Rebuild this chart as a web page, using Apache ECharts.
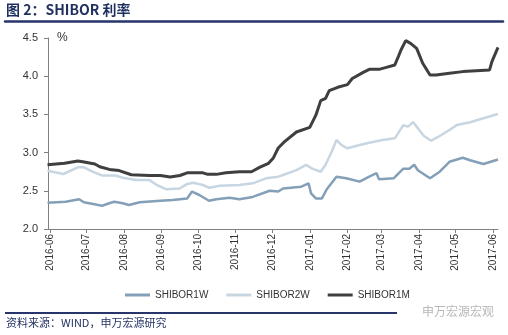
<!DOCTYPE html>
<html><head><meta charset="utf-8">
<script src="https://cdn.jsdelivr.net/npm/echarts@6/dist/echarts.min.js"></script>
<style>html,body{margin:0;padding:0;background:#fff}#c{width:508px;height:335px}</style>
</head><body><div id="c"></div>
<script>
const monthTicks = ['2016-06-01','2016-07-01','2016-08-01','2016-09-01','2016-10-01','2016-11-01','2016-12-01','2017-01-01','2017-02-01','2017-03-01','2017-04-01','2017-05-01','2017-06-01'];
const yTicks = [2.0, 2.5, 3.0, 3.5, 4.0, 4.5];

const dates1W = ['2016-05-30','2016-06-14','2016-06-25','2016-06-29','2016-07-14','2016-07-21','2016-07-24','2016-07-31','2016-08-05','2016-08-14','2016-08-28','2016-09-10','2016-09-22','2016-09-26','2016-10-02','2016-10-10','2016-10-16','2016-10-27','2016-11-04','2016-11-15','2016-11-29','2016-12-06','2016-12-10','2016-12-25','2016-12-31','2017-01-02','2017-01-06','2017-01-11','2017-01-15','2017-01-23','2017-01-31','2017-02-11','2017-02-19','2017-02-25','2017-02-27','2017-03-11','2017-03-19','2017-03-24','2017-03-28','2017-03-31','2017-04-10','2017-04-18','2017-04-26','2017-05-07','2017-05-13','2017-05-24','2017-05-30','2017-06-05'];
const values1W = [2.344,2.357,2.39,2.35,2.305,2.344,2.357,2.336,2.314,2.35,2.366,2.38,2.40,2.49,2.445,2.37,2.389,2.41,2.389,2.42,2.50,2.49,2.53,2.554,2.598,2.467,2.40,2.40,2.52,2.685,2.664,2.62,2.685,2.73,2.65,2.664,2.79,2.79,2.84,2.77,2.664,2.75,2.88,2.933,2.90,2.85,2.88,2.91];

const dates2W = ['2016-05-30','2016-06-12','2016-06-24','2016-06-29','2016-07-06','2016-07-14','2016-07-25','2016-07-31','2016-08-11','2016-08-22','2016-08-28','2016-09-05','2016-09-16','2016-09-22','2016-09-27','2016-10-05','2016-10-10','2016-10-19','2016-11-04','2016-11-15','2016-11-26','2016-12-06','2016-12-10','2016-12-21','2016-12-29','2017-01-03','2017-01-10','2017-01-14','2017-01-19','2017-01-23','2017-01-24','2017-01-27','2017-02-01','2017-02-11','2017-02-19','2017-03-02','2017-03-12','2017-03-19','2017-03-23','2017-03-27','2017-03-31','2017-04-05','2017-04-11','2017-04-18','2017-04-26','2017-05-02','2017-05-13','2017-05-24','2017-06-05'];
const values2W = [2.763,2.72,2.807,2.807,2.75,2.70,2.70,2.67,2.64,2.64,2.576,2.52,2.53,2.59,2.606,2.576,2.54,2.567,2.576,2.598,2.663,2.685,2.707,2.77,2.84,2.79,2.75,2.84,3.01,3.165,3.17,3.10,3.056,3.10,3.13,3.165,3.187,3.36,3.34,3.40,3.32,3.217,3.156,3.217,3.296,3.36,3.397,3.45,3.505];

const dates1M = ['2016-05-30','2016-06-13','2016-06-24','2016-06-28','2016-07-08','2016-07-12','2016-07-20','2016-07-28','2016-08-07','2016-08-22','2016-08-31','2016-09-08','2016-09-16','2016-09-22','2016-10-05','2016-10-09','2016-10-16','2016-10-24','2016-11-04','2016-11-14','2016-11-21','2016-11-28','2016-12-02','2016-12-06','2016-12-11','2016-12-21','2017-01-01','2017-01-06','2017-01-10','2017-01-14','2017-01-17','2017-01-24','2017-02-01','2017-02-05','2017-02-14','2017-02-19','2017-02-27','2017-03-05','2017-03-12','2017-03-15','2017-03-17','2017-03-21','2017-03-25','2017-03-30','2017-04-04','2017-04-10','2017-04-15','2017-04-26','2017-05-07','2017-05-18','2017-05-29','2017-05-31','2017-06-05'];
const values1M = [2.84,2.86,2.89,2.88,2.85,2.815,2.78,2.765,2.71,2.70,2.70,2.68,2.70,2.735,2.735,2.715,2.715,2.735,2.75,2.75,2.81,2.86,2.93,3.06,3.14,3.27,3.33,3.49,3.68,3.71,3.81,3.855,3.89,3.97,4.05,4.09,4.09,4.116,4.147,4.26,4.34,4.465,4.43,4.365,4.17,4.016,4.016,4.04,4.06,4.07,4.08,4.19,4.378];

const seriesNames = ['SHIBOR1W','SHIBOR2W','SHIBOR1M'];
const seriesColors = ['#849fb8','#c8d6e2','#3f3f3f'];

function ts(s){ const p=s.split('-'); return Date.UTC(+p[0], +p[1]-1, +p[2]); }
function pairs(d, v){ return d.map((x,i)=>[ts(x), v[i]]); }
const FONT = '"Liberation Sans", Arial, sans-serif';
const CJK = '"Noto Sans CJK SC", sans-serif';
const DAY = 86400000;

const chart = echarts.init(document.getElementById('c'), null, {renderer:'canvas'});
chart.setOption({
  animation:false,
  backgroundColor:'#fff',
  title:[
    {text:'图 2：SHIBOR 利率', left:2, top:1, padding:[2,4,3,4], textStyle:{fontSize:14, fontWeight:'bold', color:'#1f2f5f', fontFamily:CJK}},
    {text:'资料来源：WIND，申万宏源研究', left:2, top:315, padding:[2,4,2,4], textStyle:{fontSize:11, fontWeight:'normal', color:'#1f2f5f', fontFamily:CJK}}
  ],
  grid:[
    {left:48, right:10, top:38, bottom:106, containLabel:false},
    {left:5, right:5, top:21, height:0, containLabel:false, show:true, borderWidth:0},
  ],
  xAxis:[{
    type:'value', gridIndex:0,
    min: ts('2016-05-30') + 0.4*DAY,
    max: ts('2017-06-05'),
    axisLine:{show:true, onZero:false, lineStyle:{color:'#808080', width:1}},
    axisTick:{show:true, length:4, lineStyle:{color:'#808080'}, customValues: monthTicks.map(ts)},
    axisLabel:{rotate:90, fontSize:10, color:'#333', fontFamily:FONT, margin:5,
      customValues: monthTicks.map(ts),
      formatter:function(v){ const d=new Date(v); const m=d.getUTCMonth()+1; return d.getUTCFullYear()+'-'+(m<10?'0'+m:m); }},
    splitLine:{show:false}
  },{
    type:'value', gridIndex:1, min:0, max:1, position:'bottom',
    axisLine:{show:true, onZero:false, lineStyle:{color:'#28356a', width:2.5}},
    axisTick:{show:false}, axisLabel:{show:false}, splitLine:{show:false}
  }],
  yAxis:[{
    type:'value', gridIndex:0, min:yTicks[0], max:yTicks[yTicks.length-1], interval:0.5,
    axisLine:{show:true, lineStyle:{color:'#808080', width:1}},
    axisTick:{show:true, inside:false, length:4, lineStyle:{color:'#808080'}},
    axisLabel:{fontSize:11, color:'#333', fontFamily:FONT, margin:10,
      formatter:function(v){ return v.toFixed(1); }},
    splitLine:{show:false}
  },{
    type:'value', gridIndex:1, show:false, min:0, max:1
  }],
  legend:{
    top:285, left:120, itemWidth:25, itemHeight:3, itemGap:18, icon:'rect',
    textStyle:{fontSize:10, color:'#333', fontFamily:FONT},
    data: seriesNames
  },
  series:[
    {name:seriesNames[0], type:'line', showSymbol:false, data:pairs(dates1W, values1W), lineStyle:{width:2.5, color:seriesColors[0]}, itemStyle:{color:seriesColors[0]}},
    {name:seriesNames[1], type:'line', showSymbol:false, data:pairs(dates2W, values2W), lineStyle:{width:2.5, color:seriesColors[1]}, itemStyle:{color:seriesColors[1]}},
    {name:seriesNames[2], type:'line', showSymbol:false, data:pairs(dates1M, values1M), lineStyle:{width:3, color:seriesColors[2]}, itemStyle:{color:seriesColors[2]}}
  ],
  graphic:[
    {type:'text', left:57, top:32, style:{text:'%', font:'12px '+FONT, fill:'#333'}},
    {type:'text', left:422, top:305, style:{text:'申万宏源宏观', font:'12px '+CJK, fill:'#b8b8b8'}},
    {type:'rect', position:[5,312], shape:{x:0,y:0,width:392,height:2}, style:{fill:'#28356a'}}
  ]
});
</script></body></html>
